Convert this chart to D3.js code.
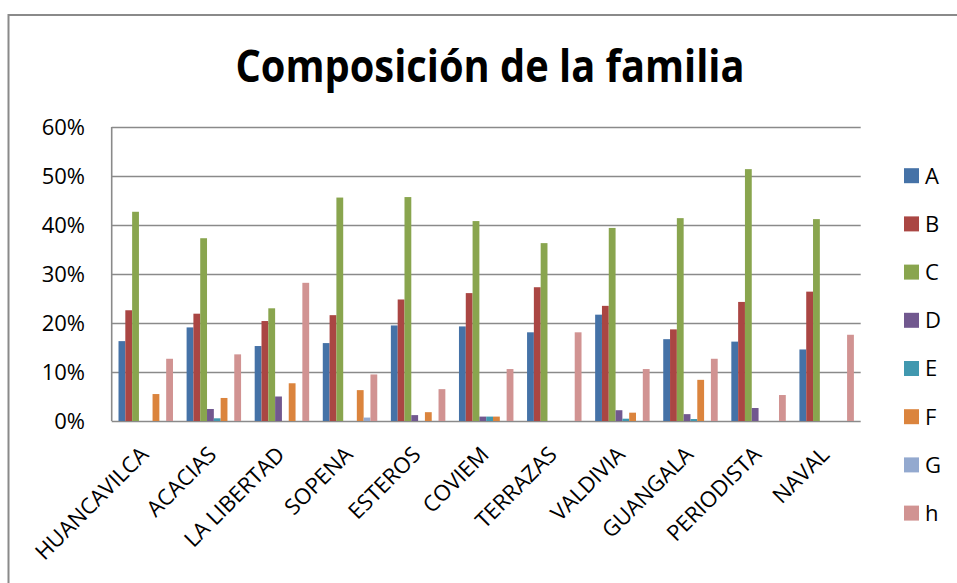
<!DOCTYPE html>
<html>
<head>
<meta charset="utf-8">
<script src="https://cdn.jsdelivr.net/npm/d3@7"></script>
<style>
    body { margin: 0; background: #fff; }
    text { font-family: "Open Sans", "DejaVu Sans", sans-serif; fill: #000; }
    .grid line { stroke: #8a8a8a; stroke-width: 1.6; }
    .grid path { display: none; }
</style>
</head>
<body>
<svg width="957" height="583"></svg>
<script>
// data (percent)
var categories = ["HUANCAVILCA", "ACACIAS", "LA LIBERTAD", "SOPENA", "ESTEROS", "COVIEM",
    "TERRAZAS", "VALDIVIA", "GUANGALA", "PERIODISTA", "NAVAL"];
var seriesNames = ["A", "B", "C", "D", "E", "F", "G", "h"];
var serA = [16.3, 19.1, 15.3, 15.9, 19.5, 19.3, 18.1, 21.7, 16.7, 16.2, 14.6];
var serB = [22.6, 21.9, 20.4, 21.6, 24.8, 26.1, 27.3, 23.5, 18.7, 24.3, 26.4];
var serC = [42.7, 37.3, 23.0, 45.6, 45.7, 40.8, 36.3, 39.4, 41.4, 51.4, 41.2];
var serD = [0, 2.45, 5.0, 0, 1.2, 0.9, 0, 2.2, 1.4, 2.65, 0];
var serE = [0, 0.55, 0, 0, 0, 0.9, 0, 0.47, 0.4, 0, 0];
var serF = [5.5, 4.7, 7.7, 6.3, 1.8, 0.9, 0, 1.7, 8.4, 0, 0];
var serG = [0, 0, 0, 0.7, 0, 0, 0, 0, 0, 0, 0];
var serH = [12.7, 13.6, 28.2, 9.5, 6.5, 10.6, 18.1, 10.6, 12.7, 5.3, 17.6];
var yTicks = [0, 0.1, 0.2, 0.3, 0.4, 0.5, 0.6];
var colors = ["#4572A7", "#AA4643", "#89A54E", "#71588F", "#4198AF", "#DB843D", "#93A9CF", "#D19392"];

var allSeries = [serA, serB, serC, serD, serE, serF, serG, serH];

var svg = d3.select("svg");

// chart area border
svg.append("rect")
    .attr("x", 8.5).attr("y", 15)
    .attr("width", 1000).attr("height", 700)
    .attr("fill", "none")
    .attr("stroke", "#8a8a8a")
    .attr("stroke-width", 2);

svg.append("text")
    .attr("x", 490)
    .attr("y", 82)
    .attr("text-anchor", "middle")
    .attr("font-size", 44)
    .attr("font-weight", "bold")
    .attr("textLength", 509)
    .attr("lengthAdjust", "spacingAndGlyphs")
    .text("Composición de la familia");

var x0 = d3.scaleBand()
    .domain(categories)
    .range([111.7, 860.7]);

var x1 = d3.scaleBand()
    .domain(seriesNames)
    .range([0, x0.bandwidth()])
    .paddingInner(0)
    .paddingOuter(1);

var y = d3.scaleLinear()
    .domain([0, 0.6])
    .range([421, 127]);

// gridlines
svg.append("g")
    .attr("class", "grid")
    .attr("transform", "translate(111.7,0)")
    .call(d3.axisLeft(y).tickValues(yTicks).tickSize(-749).tickFormat(""));

// y axis line
svg.append("line")
    .attr("x1", 111.7).attr("x2", 111.7)
    .attr("y1", y(0.6)).attr("y2", y(0))
    .attr("stroke", "#8a8a8a")
    .attr("stroke-width", 1.6);

svg.append("g")
    .selectAll("text")
    .data(yTicks)
    .enter().append("text")
    .attr("x", 85)
    .attr("y", function (d) { return y(d); })
    .attr("dy", "0.36em")
    .attr("text-anchor", "end")
    .attr("font-size", 22)
    .text(d3.format(".0%"));

// bars
var groups = svg.append("g")
    .selectAll("g")
    .data(categories)
    .enter().append("g")
    .attr("transform", function (d) { return "translate(" + x0(d) + ",0)"; });

groups.selectAll("rect")
    .data(function (d, i) {
        return seriesNames.map(function (s, j) {
            return { key: s, value: allSeries[j][i] / 100, color: colors[j] };
        });
    })
    .enter().append("rect")
    .filter(function (d) { return d.value > 0; })
    .attr("x", function (d) { return x1(d.key); })
    .attr("y", function (d) { return y(d.value); })
    .attr("width", x1.bandwidth())
    .attr("height", function (d) { return y(0) - y(d.value); })
    .attr("fill", function (d) { return d.color; });

// category labels, rotated
svg.append("g")
    .selectAll("text")
    .data(categories)
    .enter().append("text")
    .attr("text-anchor", "end")
    .attr("font-size", 22)
    .attr("transform", function (d) {
        return "translate(" + (x0(d) + x0.bandwidth() / 2 + 4) + ",456) rotate(-45)";
    })
    .text(function (d) { return d; });

// legend
var legend = svg.append("g")
    .selectAll("g")
    .data(seriesNames)
    .enter().append("g")
    .attr("transform", function (d, i) { return "translate(904," + (175.7 + i * 48.2) + ")"; });

legend.append("rect")
    .attr("x", 0).attr("y", -7.5)
    .attr("width", 15).attr("height", 15)
    .attr("fill", function (d, i) { return colors[i]; });

legend.append("text")
    .attr("x", 21)
    .attr("dy", "0.36em")
    .attr("font-size", 22)
    .text(function (d) { return d; });
</script>
</body>
</html>
